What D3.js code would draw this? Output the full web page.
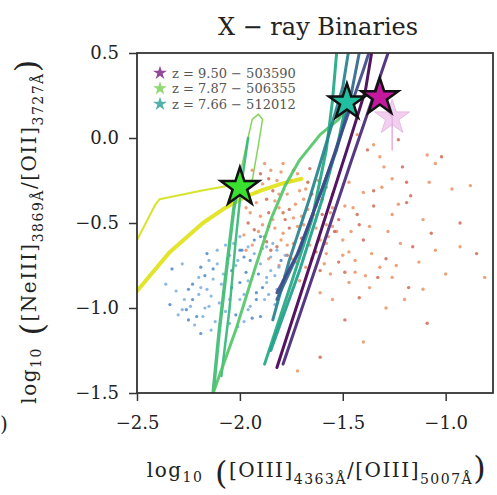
<!DOCTYPE html>
<html>
<head>
<meta charset="utf-8">
<script src="https://cdn.jsdelivr.net/npm/d3@7"></script>
<style>
  body { margin: 0; background: #fff; }
  svg text { font-family: "DejaVu Serif", "Liberation Serif", serif; fill: #222; }
</style>
</head>
<body>
<div id="chart"></div>
<script>
// axis setup
const xDomain = [-2.5, -0.77];
const yDomain = [-1.5, 0.5];
const xTicks = [-2.5, -2.0, -1.5, -1.0];
const yTicks = [0.5, 0.0, -0.5, -1.0, -1.5];

// legend
const legendLabels = ["z = 9.50 \u2212 503590", "z = 7.87 \u2212 506355", "z = 7.66 \u2212 512012"];

const hostPoints = [
  [-1.38,-0.07],[-1.32,-0.11],[-1.09,-0.10],[-1.02,-0.11],[-1.05,-0.15],[-1.30,-0.17],[-1.21,-0.17],
  [-1.47,-0.26],[-1.40,-0.32],[-1.35,-0.31],[-1.31,-0.29],[-1.26,-0.24],[-1.19,-0.26],[-1.08,-0.26],
  [-1.23,-0.39],[-1.19,-0.38],[-1.45,-0.41],[-1.55,-0.41],[-1.43,-0.45],[-1.26,-0.45],[-1.11,-0.48],
  [-1.42,-0.51],[-1.37,-0.52],[-1.55,-0.52],[-1.07,-0.56],[-1.53,-0.55],[-1.58,-0.62],[-1.16,-0.64],
  [-1.05,-0.66],[-0.93,-0.64],[-0.85,-0.68],[-1.50,-0.69],[-1.58,-0.68],[-1.29,-0.71],[-1.24,-0.75],
  [-1.32,-0.76],[-1.49,-0.79],[-1.44,-0.79],[-1.39,-0.81],[-1.33,-0.82],[-1.26,-0.82],[-0.81,-0.82],
  [-1.61,-0.78],[-1.47,-0.85],[-1.37,-0.88],[-1.18,-0.88],[-1.11,-0.89],[-1.61,-0.91],[-1.42,-0.94],
  [-1.55,-0.95],[-1.29,-1.00],[-1.09,-1.09],[-1.43,0.02],[-1.35,-0.04],[-1.23,-0.01],
  [-1.88,-0.15],[-1.85,-0.19],[-1.90,-0.21],[-1.82,-0.25],[-1.92,-0.32],[-1.87,-0.36],[-1.81,-0.41],
  [-1.84,-0.48],[-1.76,-0.42],[-1.72,-0.52],[-1.95,-0.44],[-1.93,-0.54],[-1.79,-0.56],[-1.74,-0.62],
  [-1.82,-0.64],[-1.97,-0.66],[-1.69,-0.36],[-1.67,-0.26],[-1.74,-0.19],[-1.79,-0.15],[-1.60,-0.36],
  [-1.56,-0.44],[-1.58,-0.51],[-1.54,-0.55],[-1.61,-0.60],[-1.64,-0.45],[-1.65,-0.33],[-1.62,-0.25],
  [-1.68,-0.57],[-1.71,-0.66],[-1.65,-0.71],[-1.73,-0.73],[-1.77,-0.69],[-1.81,-0.75],[-1.86,-0.71],
  [-1.78,-0.81],[-1.71,-0.84],[-1.89,-0.27],[-1.84,-0.31],[-1.77,-0.33],[-1.90,-0.46],[-1.87,-0.61],
  [-1.75,-0.25],[-1.71,-0.31],[-1.78,-0.48],[-1.89,-0.51],[-1.98,-0.57],[-1.61,-1.29],[-1.72,-1.37],
  [-1.94,-0.19],[-1.86,-0.24],[-1.80,-0.20],[-1.72,-0.21],[-1.66,-0.18],[-1.92,-0.38],[-1.83,-0.37],
  [-1.79,-0.44],[-1.73,-0.39],[-1.70,-0.46],[-1.86,-0.44],[-1.91,-0.55],[-1.83,-0.53],[-1.76,-0.53],
  [-1.69,-0.51],[-1.63,-0.53],[-1.88,-0.58],[-1.80,-0.60],[-1.77,-0.63],[-1.70,-0.59],[-1.66,-0.63],
  [-1.94,-0.63],[-1.85,-0.66],[-1.75,-0.71],[-1.68,-0.76],[-1.63,-0.67],[-1.59,-0.74],[-1.57,-0.58],
  [-1.52,-0.48],[-1.50,-0.60],[-1.47,-0.67],[-1.52,-0.73],[-1.56,-0.80],[-1.97,-0.41],[-1.96,-0.50],
  [-1.81,-0.33],[-1.68,-0.30],[-1.63,-0.40],[-1.58,-0.29],[-1.55,-0.33],[-1.86,-0.52],[-1.74,-0.47],
  [-1.67,-0.42],[-1.60,-0.45],[-1.49,-0.40],[-1.46,-0.55],[-1.40,-0.60],[-1.36,-0.68],[-1.44,-0.72],
  [-1.35,-0.40],[-1.28,-0.55],[-1.22,-0.62],[-1.17,-0.34],[-1.13,-0.73],[-0.97,-0.30],[-0.93,-0.50],
  [-1.00,-0.80],[-1.20,-0.95],[-1.49,-1.07],[-1.40,-1.20],[-0.88,-0.28]
];

// low-metallicity galaxies (blue)
const bluePoints = [
  [-2.16,-0.68],[-2.11,-0.74],[-2.19,-0.88],[-2.23,-0.95],[-2.13,-0.83],[-2.01,-0.72],[-1.97,-0.79],
  [-1.90,-0.74],[-1.87,-0.85],[-1.92,-0.91],[-2.05,-0.95],[-2.15,-0.99],[-2.26,-1.01],[-2.18,-1.05],
  [-1.95,-0.99],[-1.90,-1.05],[-1.81,-0.76],[-1.85,-0.70],[-2.19,-0.76],[-2.11,-0.66],[-2.00,-0.58],
  [-1.95,-0.72],[-1.84,-0.62],[-1.87,-0.82],[-2.00,-0.85],[-2.16,-0.89],[-2.24,-0.99],[-2.21,-1.05],
  [-2.28,-1.01],[-2.10,-0.97],[-1.92,-0.95],[-1.82,-0.89],[-2.07,-0.63],[-2.04,-0.78],[-2.09,-0.86],
  [-1.98,-0.92],[-2.02,-1.04],[-2.12,-1.08],[-2.22,-1.10],[-2.17,-0.81],[-2.06,-0.71],[-1.89,-0.65],
  [-1.93,-0.60],[-1.78,-0.69],[-1.83,-0.98],[-1.99,-0.66],[-2.14,-0.93],[-2.20,-0.92],[-2.25,-0.89],
  [-2.07,-1.02],[-2.01,-1.11],[-1.94,-1.06],[-1.88,-0.95],[-1.85,-0.78],[-1.79,-0.84],[-2.28,-0.74],
  [-2.03,-0.62],[-2.00,-0.66],[-1.96,-0.64],[-2.05,-0.69],[-1.98,-0.70],[-2.02,-0.75],[-1.93,-0.68],
  [-1.91,-0.80],[-1.96,-0.84],[-2.08,-0.80],[-2.13,-0.77],[-2.15,-0.72],[-2.20,-0.82],[-2.23,-0.86],
  [-2.27,-0.95],[-2.30,-1.04],[-2.25,-1.07],[-2.17,-1.00],[-2.08,-0.91],[-2.04,-0.88],[-2.00,-0.95],
  [-1.96,-1.01],[-1.89,-0.88],[-1.86,-0.92],[-1.83,-0.81],[-1.80,-0.72],[-1.82,-0.66],[-1.87,-0.64],
  [-1.90,-0.58],[-2.09,-1.03],[-2.14,-1.13],[-2.19,-1.15],[-2.05,-1.09],[-2.31,-0.90],[-2.34,-0.98],
  [-1.98,-1.08],[-2.36,-0.86],[-2.33,-0.77]
];

// model tracks
const yellowThick = [[-2.56,-0.99],[-2.5,-0.90],[-2.34,-0.67],[-2.18,-0.50],[-2.07,-0.41],[-1.98,-0.35],[-1.90,-0.31],[-1.80,-0.27],[-1.70,-0.24]];
const yellowThin = [[-2.56,-0.72],[-2.5,-0.60],[-2.41,-0.39],[-2.39,-0.36],[-2.19,-0.31],[-2.05,-0.28],[-1.97,-0.27]];
const greenLoop = [[-2.0,-0.22],[-1.97,-0.05],[-1.94,0.11],[-1.91,0.14],[-1.89,0.11],[-1.91,-0.04],[-1.94,-0.25]];
const greenA = [[-2.13,-1.50],[-2.10,-1.13],[-2.06,-0.72],[-2.03,-0.42],[-2.00,-0.22]];
const greenB = [[-2.13,-1.50],[-2.02,-1.13],[-1.93,-0.78],[-1.85,-0.48],[-1.78,-0.28],[-1.71,-0.13],[-1.61,0.02],[-1.52,0.11],[-1.48,0.19]];
const greenC = [[-2.09,-1.40],[-2.05,-1.00],[-2.02,-0.60],[-1.99,-0.25],[-1.96,0.0]];
const tealA = [[-1.88,-1.33],[-1.76,-0.89],[-1.65,-0.48],[-1.58,-0.07],[-1.55,0.22],[-1.53,0.50],[-1.52,0.60]];
const tealB = [[-1.85,-1.25],[-1.71,-0.78],[-1.60,-0.36],[-1.52,-0.01],[-1.48,0.22]];
const tealC = [[-1.84,-1.07],[-1.76,-0.72],[-1.66,-0.35],[-1.56,0.05],[-1.50,0.30],[-1.46,0.60]];
const blueA = [[-1.82,-0.95],[-1.71,-0.66],[-1.62,-0.36],[-1.53,-0.07],[-1.47,0.19],[-1.42,0.50],[-1.40,0.60]];
const blueB = [[-1.82,-0.91],[-1.72,-0.68],[-1.60,-0.30],[-1.50,0.05],[-1.40,0.40],[-1.36,0.55]];
const purpleA = [[-1.82,-1.35],[-1.66,-0.75],[-1.48,-0.07],[-1.39,0.28],[-1.36,0.50],[-1.34,0.60]];
const purpleB = [[-1.79,-1.33],[-1.62,-0.72],[-1.46,-0.14],[-1.35,0.25],[-1.28,0.50],[-1.25,0.60]];
const pinkTail = [[-1.32,0.24],[-1.26,0.12],[-1.26,-0.07]];

// end-point stars
const starPoints = [[-2.0,-0.29],[-1.48,0.21],[-1.32,0.24]];
const fadedStar = [-1.26, 0.12];

const width = 497, height = 495;
const margin = {left: 137, right: 4, top: 53, bottom: 102};

const svg = d3.select("#chart").append("svg")
  .attr("width", width).attr("height", height);

const x = d3.scaleLinear().domain(xDomain).range([margin.left, width - margin.right]);
const y = d3.scaleLinear().domain(yDomain).range([height - margin.bottom, margin.top]);

svg.append("clipPath").attr("id", "plotclip")
  .append("rect")
  .attr("x", x(xDomain[0])).attr("y", y(yDomain[1]))
  .attr("width", x(xDomain[1]) - x(xDomain[0]))
  .attr("height", y(yDomain[0]) - y(yDomain[1]));

const plot = svg.append("g").attr("clip-path", "url(#plotclip)");

// scatter first, tracks on top
plot.selectAll(".host").data(hostPoints).join("circle")
  .attr("cx", d => x(d[0])).attr("cy", d => y(d[1]))
  .attr("r", 1.7)
  .attr("fill", (d, i) => i % 3 == 0 ? "#c9553a" : "#e8834e")
  .attr("opacity", 0.75);

plot.selectAll(".blue").data(bluePoints).join("circle")
  .attr("cx", d => x(d[0])).attr("cy", d => y(d[1]))
  .attr("r", 1.6)
  .attr("fill", (d, i) => i % 3 == 0 ? "#3f7fc4" : "#6fa8dc")
  .attr("opacity", 0.8);

const line = d3.line().x(d => x(d[0])).y(d => y(d[1])).curve(d3.curveLinear);

const tracks = [
  {pts: yellowThin, color: "#d4e21a", w: 2},
  {pts: yellowThick, color: "#dfe318", w: 4},
  {pts: greenLoop, color: "#7ad151", w: 1.5},
  {pts: greenC, color: "#35b779", w: 2.5},
  {pts: greenA, color: "#3fbc73", w: 3.5},
  {pts: greenB, color: "#52c569", w: 3},
  {pts: tealA, color: "#22a884", w: 3},
  {pts: tealB, color: "#1f9e89", w: 3},
  {pts: tealC, color: "#26828e", w: 3},
  {pts: blueA, color: "#31688e", w: 3},
  {pts: blueB, color: "#3e4a89", w: 3},
  {pts: purpleB, color: "#482878", w: 3},
  {pts: purpleA, color: "#440154", w: 3},
  {pts: pinkTail, color: "#e7a6e0", w: 1.5}
];

plot.selectAll(".track").data(tracks).join("path")
  .attr("d", d => line(d.pts))
  .attr("fill", "none")
  .attr("stroke", d => d.color)
  .attr("stroke-width", d => d.w)
  .attr("stroke-linecap", "round")
  .attr("stroke-linejoin", "round")
  .attr("opacity", 0.92);

const star = d3.symbol().type(d3.symbolStar);

// faded companion star
plot.append("path")
  .attr("d", star.size(380)())
  .attr("transform", `translate(${x(fadedStar[0])},${y(fadedStar[1])})`)
  .attr("fill", "#eab0e4").attr("opacity", 0.6)
  .attr("stroke", "#d88fd2").attr("stroke-width", 1);

const starColors = ["#39e030", "#1fbfa0", "#c4189e"];
const starSizes = [450, 400, 420];
plot.selectAll(".star").data(starPoints).join("path")
  .attr("d", (d, i) => star.size(starSizes[i])())
  .attr("transform", d => `translate(${x(d[0])},${y(d[1])})`)
  .attr("fill", (d, i) => starColors[i])
  .attr("stroke", "#111").attr("stroke-width", 2.5)
  .attr("stroke-linejoin", "miter");

// legend
const legendColors = ["#7c2a86", "#7bd35a", "#35a39a"];
const lg = svg.append("g").attr("transform", "translate(160,73)");
legendLabels.forEach((t, i) => {
  lg.append("path")
    .attr("d", star.size(60)())
    .attr("transform", `translate(0,${i * 15.5})`)
    .attr("fill", legendColors[i]).attr("opacity", 0.85);
  lg.append("text")
    .attr("x", 12).attr("y", i * 15.5 + 4.5)
    .attr("font-size", 13)
    .style("fill", "#555")
    .text(t);
});

// axes
svg.append("g")
  .attr("transform", `translate(0,${y(yDomain[0])})`)
  .call(d3.axisBottom(x).tickValues(xTicks).tickFormat(d3.format(".1f")).tickSize(8).tickPadding(15))
  .call(g => g.select(".domain").remove())
  .call(g => g.selectAll("line").attr("stroke", "#333").attr("stroke-width", 1.5))
  .call(g => g.selectAll("text").attr("font-size", 18).style("font-family", "DejaVu Serif"));

svg.append("g")
  .attr("transform", `translate(${x(xDomain[0])},0)`)
  .call(d3.axisLeft(y).tickValues(yTicks).tickFormat(d3.format(".1f")).tickSize(8).tickPadding(10))
  .call(g => g.select(".domain").remove())
  .call(g => g.selectAll("line").attr("stroke", "#333").attr("stroke-width", 1.5))
  .call(g => g.selectAll("text").attr("font-size", 18).style("font-family", "DejaVu Serif"));

// frame
svg.append("rect")
  .attr("x", x(xDomain[0])).attr("y", y(yDomain[1]))
  .attr("width", x(xDomain[1]) - x(xDomain[0]))
  .attr("height", y(yDomain[0]) - y(yDomain[1]))
  .attr("fill", "none").attr("stroke", "#333").attr("stroke-width", 1.8);

// title
svg.append("text")
  .attr("x", 318).attr("y", 35)
  .attr("text-anchor", "middle")
  .attr("font-size", 24)
  .text("X \u2212 ray Binaries");

// x label
const xl = svg.append("text")
  .attr("x", 317).attr("y", 477)
  .attr("text-anchor", "middle")
  .attr("font-size", 20)
  .style("letter-spacing", "1.5px");
xl.append("tspan").text("log");
xl.append("tspan").attr("font-size", 14).attr("dy", 5).text("10");
xl.append("tspan").attr("font-size", 32).attr("dy", 2).text(" (");
xl.append("tspan").attr("dy", -7).text("[OIII]");
xl.append("tspan").attr("font-size", 14).attr("dy", 7).text("4363\u00C5");
xl.append("tspan").attr("dy", -7).text("/[OIII]");
xl.append("tspan").attr("font-size", 14).attr("dy", 7).text("5007\u00C5");
xl.append("tspan").attr("font-size", 32).attr("dy", -5).text(")");

// y label
const yl = svg.append("text")
  .attr("transform", "translate(36,231) rotate(-90)")
  .attr("text-anchor", "middle")
  .attr("font-size", 20)
  .style("letter-spacing", "1.5px");
yl.append("tspan").text("log");
yl.append("tspan").attr("font-size", 14).attr("dy", 5).text("10");
yl.append("tspan").attr("font-size", 32).attr("dy", 2).text(" (");
yl.append("tspan").attr("dy", -7).text("[NeIII]");
yl.append("tspan").attr("font-size", 14).attr("dy", 7).text("3869\u00C5");
yl.append("tspan").attr("dy", -7).text("/[OII]");
yl.append("tspan").attr("font-size", 14).attr("dy", 7).text("3727\u00C5");
yl.append("tspan").attr("font-size", 32).attr("dy", -5).text(")");

// edge of the neighbouring panel's label
svg.append("text").attr("x", 0).attr("y", 431).attr("font-size", 20).text(")");
</script>
</body>
</html>
